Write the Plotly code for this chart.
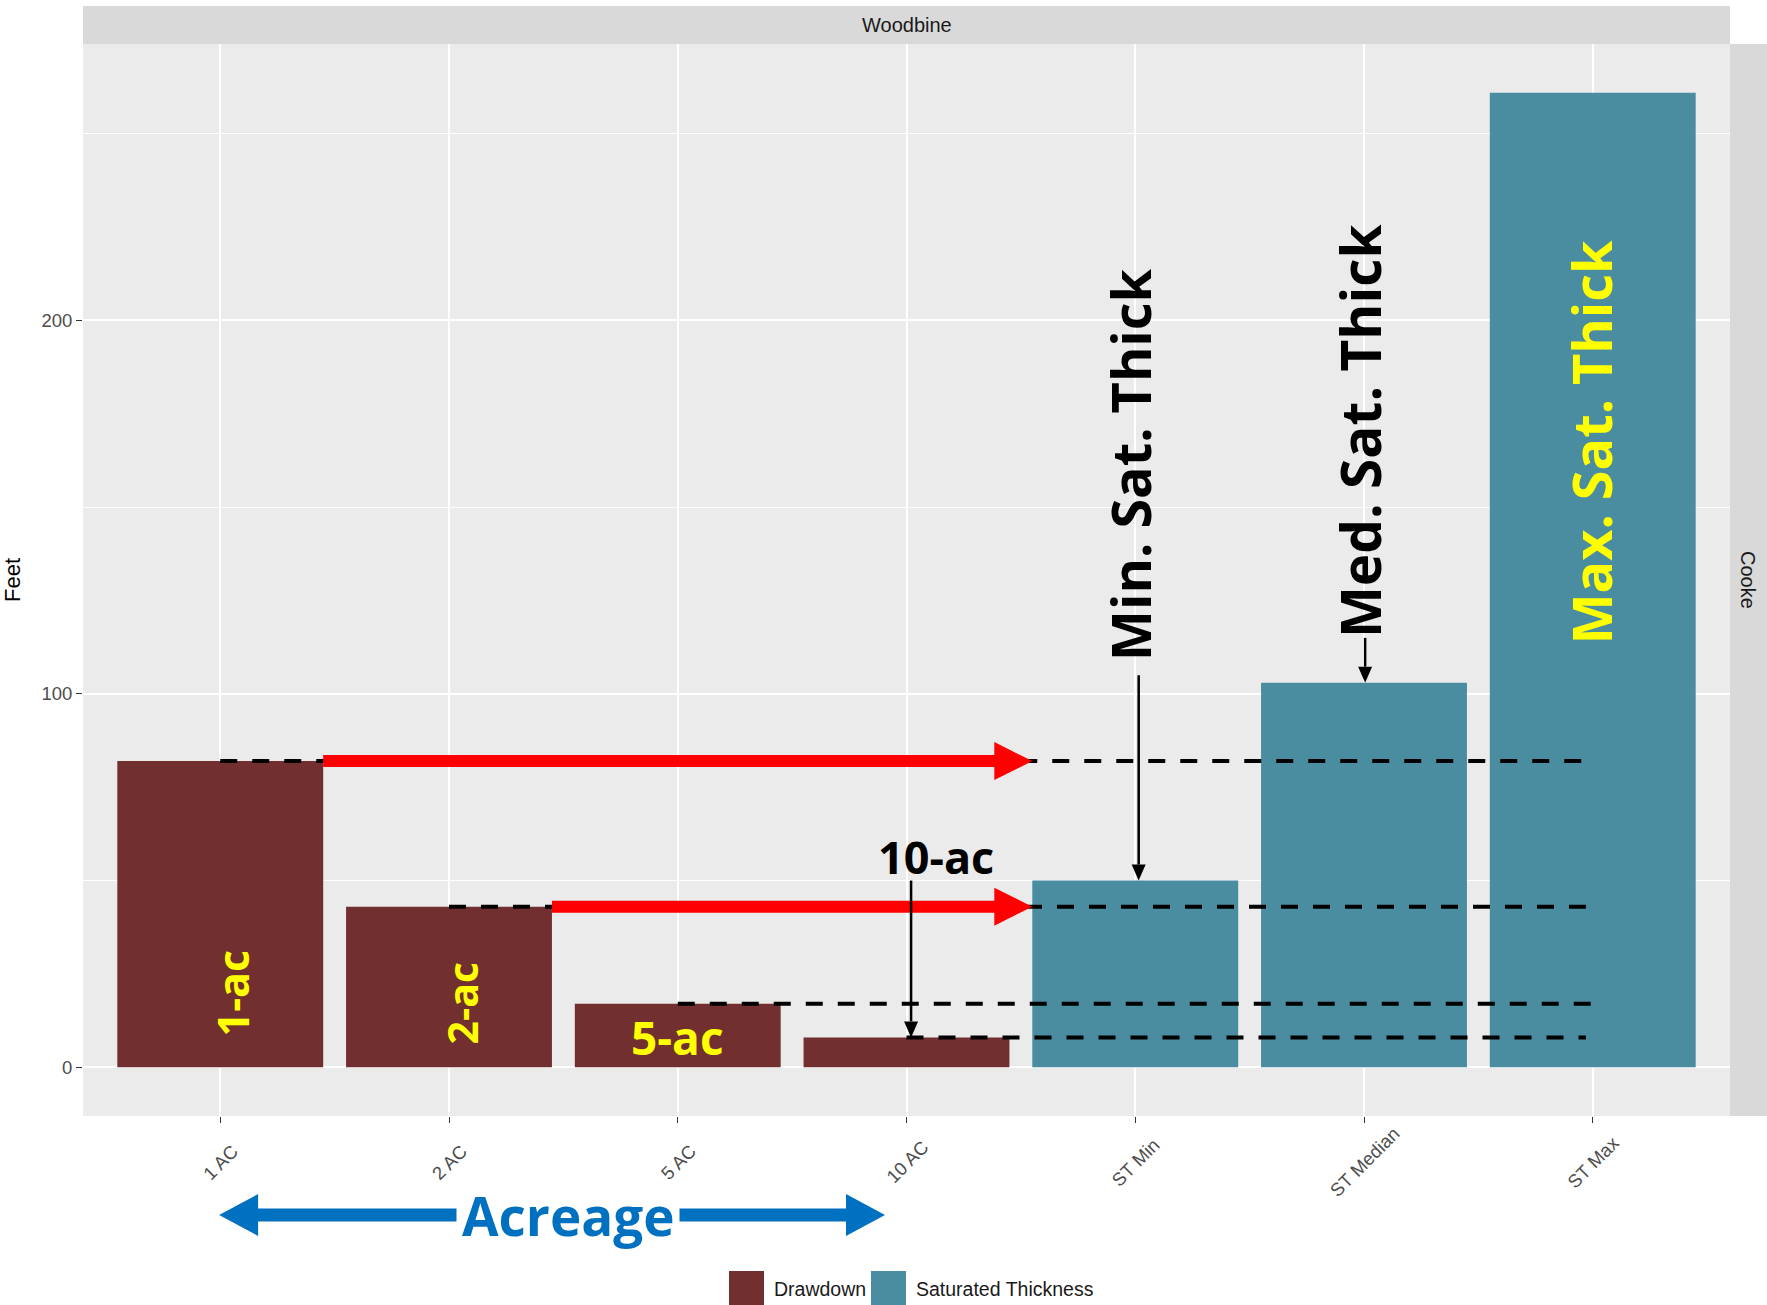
import plotly.graph_objects as go

# ---------------- data ----------------
categories = ["1 AC", "2 AC", "5 AC", "10 AC", "ST Min", "ST Median", "ST Max"]
drawdown_cats = ["1 AC", "2 AC", "5 AC", "10 AC"]
drawdown_vals = [82, 43, 17, 8]
sat_cats = ["ST Min", "ST Median", "ST Max"]
sat_vals = [50, 103, 261]
y_major = [0, 100, 200]
y_minor = [50, 150, 250]
drawdown_labels = ["1-ac", "2-ac", "5-ac", "10-ac"]
sat_labels = ["Min. Sat. Thick", "Med. Sat. Thick", "Max. Sat. Thick"]
legend_names = ["Drawdown", "Saturated Thickness"]
facet_top = "Woodbine"
facet_right = "Cooke"

# ---------------- styles ----------------
C_DD = "#722F30"
C_ST = "#4A8CA0"
C_RED = "#FF0000"
C_BLUE = "#0070C0"
C_YEL = "#FFFF00"
W, H = 1767, 1305
ML, MR, MT, MB = 83, 37, 44, 189
PW, PH = W - ML - MR, H - MT - MB

ymax = max(drawdown_vals + sat_vals)
yr = [-0.05 * ymax, 1.05 * ymax]
xr = [-0.6, len(categories) - 0.4]
ypx = (yr[1] - yr[0]) / PH
xpx = (xr[1] - xr[0]) / PW


def idx(c):
    return categories.index(c)


def xpaper(x):
    return (x - xr[0]) / (xr[1] - xr[0])


def px2paper_x(px):
    return (px - ML) / PW


def px2paper_y(py):
    return (MT + PH - py) / PH


fig = go.Figure()
fig.add_trace(go.Bar(x=drawdown_cats, y=drawdown_vals, name=legend_names[0],
                     marker=dict(color=C_DD, line=dict(width=0)), width=0.9, showlegend=False))
fig.add_trace(go.Bar(x=sat_cats, y=sat_vals, name=legend_names[1],
                     marker=dict(color=C_ST, line=dict(width=0)), width=0.9, showlegend=False))

shapes = []
annotations = []

BOLD = dict(family="Open Sans", weight="bold")

# Acreage double arrow (below axis) - drawn first so tick labels sit on top
ay = px2paper_y(1215)
ax0 = xpaper(idx("1 AC") - 0.005)
ax1 = xpaper(idx("10 AC") - 0.094)
hlp = 39 / PW
hwp = 21 / PH
shapes.append(dict(type="line", xref="paper", yref="paper", x0=ax0 + hlp - 0.001, x1=ax1 - hlp + 0.001,
                   y0=ay, y1=ay, line=dict(color=C_BLUE, width=13)))
shapes.append(dict(type="path", xref="paper", yref="paper",
                   path=f"M {ax0 + hlp},{ay + hwp} L {ax0},{ay} L {ax0 + hlp},{ay - hwp} Z",
                   fillcolor=C_BLUE, line=dict(width=0)))
shapes.append(dict(type="path", xref="paper", yref="paper",
                   path=f"M {ax1 - hlp},{ay + hwp} L {ax1},{ay} L {ax1 - hlp},{ay - hwp} Z",
                   fillcolor=C_BLUE, line=dict(width=0)))
annotations.append(dict(text="Acreage", xref="paper", yref="paper", x=xpaper(1.522), y=ay,
                        showarrow=False, bgcolor="white", borderpad=5,
                        font=dict(size=53, color=C_BLUE, **BOLD), xanchor="center", yanchor="middle"))

# facet strips
shapes.append(dict(type="rect", xref="paper", yref="paper", x0=0, x1=1,
                   y0=1, y1=1 + 38 / PH, fillcolor="#D9D9D9", line=dict(width=0), layer="below"))
shapes.append(dict(type="rect", xref="paper", yref="paper", x0=1, x1=1 + 40 / PW,
                   y0=0, y1=1, fillcolor="#D9D9D9", line=dict(width=0), layer="below"))
annotations.append(dict(text=facet_top, xref="paper", yref="paper", x=0.5, y=1 + 19 / PH,
                        showarrow=False, font=dict(size=20, color="#1A1A1A", family="Liberation Sans"),
                        xanchor="center", yanchor="middle"))
annotations.append(dict(text=facet_right, xref="paper", yref="paper", x=1 + 18 / PW, y=0.5,
                        showarrow=False, textangle=90,
                        font=dict(size=20, color="#1A1A1A", family="Liberation Sans"),
                        xanchor="center", yanchor="middle"))

# x tick labels, rotated 45 degrees and centred under each tick (ggplot style)
for c in categories:
    annotations.append(dict(text=c, xref="x", yref="paper", x=idx(c), y=px2paper_y(1162),
                            showarrow=False, textangle=-45, xanchor="center", yanchor="middle",
                            font=dict(size=18.5, color="#4D4D4D", family="Liberation Sans")))

# dashed reference lines
dash_ends = [6, 5.97, 6, 5.97]
for c, v, xe in zip(drawdown_cats, drawdown_vals, dash_ends):
    shapes.append(dict(type="line", xref="x", yref="y", x0=idx(c), x1=xe, y0=v, y1=v,
                       line=dict(color="black", width=4, dash="17px,15px")))

# red arrows from 1 AC and 2 AC to ST Min
tip_x = idx("ST Min") - 0.45
for c, v in zip(drawdown_cats[:2], drawdown_vals[:2]):
    x0 = idx(c) + 0.45
    hl = 38 * xpx
    hw = 19 * ypx
    shapes.append(dict(type="line", xref="x", yref="y", x0=x0, x1=tip_x - hl + 0.01, y0=v, y1=v,
                       line=dict(color=C_RED, width=12)))
    shapes.append(dict(type="path", xref="x", yref="y",
                       path=f"M {tip_x - hl},{v + hw} L {tip_x},{v} L {tip_x - hl},{v - hw} Z",
                       fillcolor=C_RED, line=dict(width=0)))


def down_arrow(x, ytop, ybot):
    hl = 16 * ypx
    hw = 7 * xpx
    shapes.append(dict(type="line", xref="x", yref="y", x0=x, x1=x, y0=ytop, y1=ybot + hl,
                       line=dict(color="black", width=2.5)))
    shapes.append(dict(type="path", xref="x", yref="y",
                       path=f"M {x - hw},{ybot + hl} L {x},{ybot} L {x + hw},{ybot + hl} Z",
                       fillcolor="black", line=dict(width=0)))


down_arrow(idx("ST Min") + 0.015, 105, sat_vals[0])
down_arrow(idx("ST Median") + 0.005, 115, sat_vals[1])
down_arrow(idx("10 AC") + 0.02, 50, drawdown_vals[3])

# bar labels
annotations.append(dict(text=drawdown_labels[0], x=idx("1 AC") + 0.055, y=20, textangle=-90,
                        showarrow=False, font=dict(size=43, color=C_YEL, **BOLD)))
annotations.append(dict(text=drawdown_labels[1], x=idx("2 AC") + 0.055, y=17, textangle=-90,
                        showarrow=False, font=dict(size=41, color=C_YEL, **BOLD)))
annotations.append(dict(text=drawdown_labels[2], x=idx("5 AC"), y=8, showarrow=False,
                        font=dict(size=46, color=C_YEL, **BOLD)))
annotations.append(dict(text=drawdown_labels[3], x=idx("10 AC") + 0.13, y=56.5, showarrow=False,
                        font=dict(size=45, color="black", **BOLD)))
annotations.append(dict(text=sat_labels[0], x=idx("ST Min") - 0.02, y=161.5, textangle=-90,
                        showarrow=False, font=dict(size=54, color="black", **BOLD)))
annotations.append(dict(text=sat_labels[1], x=idx("ST Median") - 0.02, y=170.5, textangle=-90,
                        showarrow=False, font=dict(size=55, color="black", **BOLD)))
annotations.append(dict(text=sat_labels[2], x=idx("ST Max") - 0.01, y=167.5, textangle=-90,
                        showarrow=False, font=dict(size=54, color=C_YEL, **BOLD)))

# legend (ggplot-style large keys)
key_left = [729, 871]
text_left = [772, 914]
key_colors = [C_DD, C_ST]
for kl, tl, col, nm in zip(key_left, text_left, key_colors, legend_names):
    shapes.append(dict(type="rect", xref="paper", yref="paper",
                       x0=px2paper_x(kl), x1=px2paper_x(kl + 35),
                       y0=px2paper_y(1312), y1=px2paper_y(1271),
                       fillcolor=col, line=dict(width=0)))
    annotations.append(dict(text=nm, xref="paper", yref="paper", x=px2paper_x(tl), y=px2paper_y(1289),
                            showarrow=False, xanchor="left", yanchor="middle",
                            font=dict(size=19.5, color="#1A1A1A", family="Liberation Sans")))

fig.update_layout(
    width=W, height=H,
    margin=dict(l=ML, r=MR, t=MT, b=MB, pad=0, autoexpand=False),
    paper_bgcolor="white", plot_bgcolor="#EBEBEB",
    barmode="overlay", showlegend=False,
    font=dict(family="Liberation Sans", color="#4D4D4D"),
    shapes=shapes, annotations=annotations,
    xaxis=dict(type="category", categoryorder="array", categoryarray=categories,
               range=xr, showgrid=True, gridcolor="white", gridwidth=1.5,
               ticks="outside", ticklen=6, tickcolor="#333333", tickwidth=1.2,
               showticklabels=False,
               showline=False, zeroline=False, fixedrange=True),
    yaxis=dict(range=yr, tickvals=y_major, showgrid=True, gridcolor="white", gridwidth=1.5,
               ticks="outside", ticklen=6, tickcolor="#333333", tickwidth=1.2,
               tickfont=dict(size=18.5, color="#4D4D4D"),
               minor=dict(tickvals=y_minor, showgrid=True, gridcolor="white", gridwidth=0.7, ticks=""),
               title=dict(text="Feet", font=dict(size=22, color="black"), standoff=16),
               showline=False, zeroline=False),
)

fig.write_html(
    "out.html",
    config={"displayModeBar": False},
    post_script="document.body.style.margin='0px';"
                "document.body.style.overflow='hidden';"
                "document.documentElement.style.overflow='hidden';",
)
